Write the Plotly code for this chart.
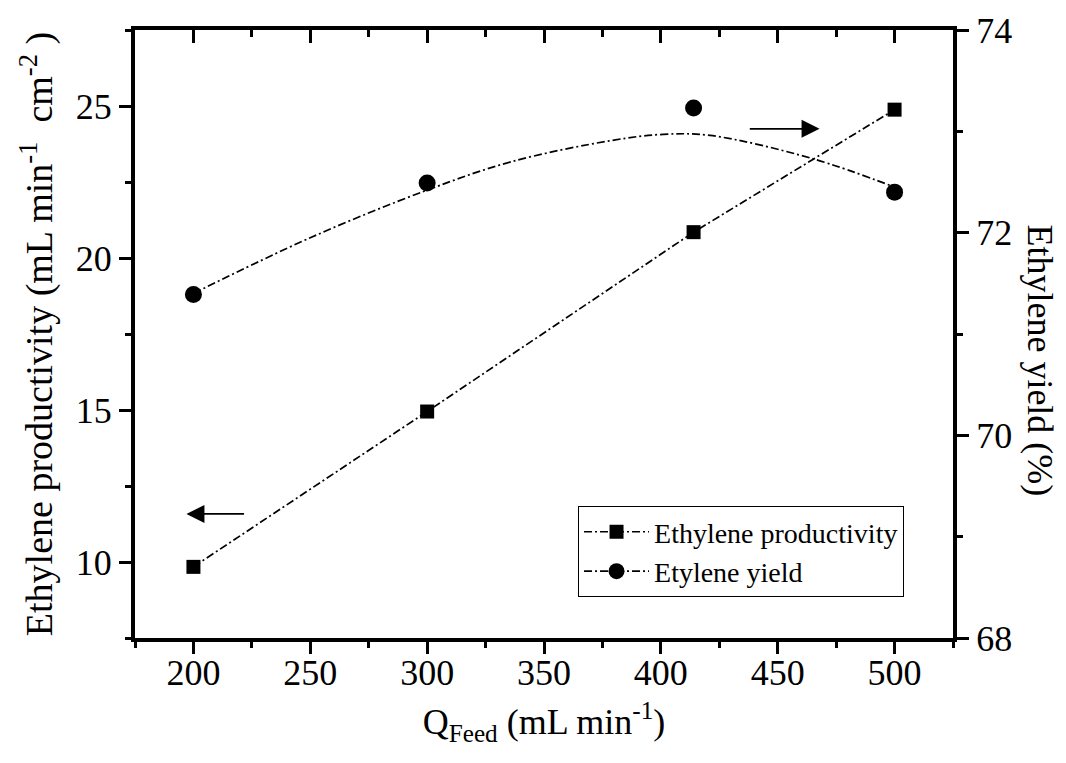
import plotly.graph_objects as go

# ---- data ----
q_feed = [200, 300, 414, 500]
productivity = [9.84, 14.95, 20.85, 24.88]
yield_pts = [71.39, 72.49, 73.23, 72.40]

# smooth fitted curve through yield
curve_x = [200, 250, 300, 336, 379, 401, 421, 465, 500]
curve_y = [71.40, 71.95, 72.42, 72.70, 72.91, 72.97, 72.96, 72.73, 72.45]

x_ticks = [200, 250, 300, 350, 400, 450, 500]
y_ticks = [10, 15, 20, 25]
y2_ticks = [68, 70, 72, 74]

FONT = "Liberation Serif, Times New Roman, serif"
DASH = "8px,3px,2px,3px"

fig = go.Figure()

fig.add_trace(go.Scatter(
    x=q_feed, y=productivity, mode="lines+markers",
    name="Ethylene productivity",
    line=dict(color="black", width=1.7, dash=DASH),
    marker=dict(symbol="square", size=14, color="black"),
    xaxis="x", yaxis="y",
))

fig.add_trace(go.Scatter(
    x=curve_x, y=curve_y, mode="lines", showlegend=False,
    line=dict(color="black", width=1.7, dash=DASH, shape="spline", smoothing=1.0),
    xaxis="x", yaxis="y2", hoverinfo="skip",
))
fig.add_trace(go.Scatter(
    x=q_feed, y=yield_pts, mode="markers", showlegend=False,
    marker=dict(symbol="circle", size=17, color="black"),
    xaxis="x", yaxis="y2",
))
# legend entry for yield (line + marker)
fig.add_trace(go.Scatter(
    x=[None], y=[None], mode="lines+markers", name="Etylene yield",
    line=dict(color="black", width=1.7, dash=DASH),
    marker=dict(symbol="circle", size=16, color="black"),
    xaxis="x", yaxis="y2",
))
# empty traces so the tick-only axes are drawn
fig.add_trace(go.Scatter(x=[None], y=[None], mode="markers", showlegend=False,
                         xaxis="x2", yaxis="y", hoverinfo="skip"))
fig.add_trace(go.Scatter(x=[None], y=[None], mode="markers", showlegend=False,
                         xaxis="x3", yaxis="y", hoverinfo="skip"))

axis_common = dict(
    showline=True, linecolor="black", linewidth=4,
    showgrid=False, zeroline=False, automargin=False,
    tickcolor="black", tickwidth=3, ticklen=12,
    tickfont=dict(family=FONT, size=36, color="black"),
)

fig.update_layout(
    width=1066, height=763,
    margin=dict(l=135, r=113, t=30, b=125),
    paper_bgcolor="white", plot_bgcolor="white",
    font=dict(family=FONT, color="black"),
    showlegend=True,
    legend=dict(
        x=0.5416, y=0.217, xanchor="left", yanchor="top",
        bordercolor="black", borderwidth=1, bgcolor="white",
        font=dict(family=FONT, size=28, color="black"),
        tracegroupgap=0, itemwidth=65,
    ),
    # bottom axis: labels + title (ticks drawn by xaxis3)
    xaxis=dict(
        showline=True, linecolor="black", linewidth=4, showgrid=False, zeroline=False,
        automargin=False, range=[175, 525], tickvals=x_ticks, ticks="",
        tickfont=dict(family=FONT, size=36, color="black"),
        title=dict(text="Q<sub>Feed</sub> (mL min<sup>-1</sup>)",
                   font=dict(family=FONT, size=36, color="black"), standoff=18),
    ),
    # top axis with inward ticks
    xaxis2=dict(
        showline=True, linecolor="black", linewidth=4, showgrid=False, zeroline=False,
        automargin=False, anchor="y",
        range=[175, 525], tickvals=x_ticks, ticks="inside", side="top", overlaying="x",
        tickcolor="black", tickwidth=3, ticklen=13, showticklabels=False,
        minor=dict(dtick=25, tick0=0, ticks="inside", ticklen=7, tickwidth=3, tickcolor="black"),
    ),
    # bottom outward ticks
    xaxis3=dict(
        showline=True, linecolor="black", linewidth=4, showgrid=False, zeroline=False,
        automargin=False, anchor="y",
        range=[175, 525], tickvals=x_ticks, ticks="outside", side="bottom", overlaying="x",
        tickcolor="black", tickwidth=3, ticklen=12, showticklabels=False,
        minor=dict(dtick=25, tick0=0, ticks="outside", ticklen=6, tickwidth=3, tickcolor="black"),
    ),
    yaxis=dict(
        **axis_common, range=[7.5, 27.5], tickvals=y_ticks, ticks="outside",
        minor=dict(dtick=2.5, tick0=0, ticks="outside", ticklen=6, tickwidth=3, tickcolor="black"),
        title=dict(text="Ethylene productivity (mL min<sup>-1</sup>&nbsp; cm<sup>-2</sup>&nbsp;)",
                   font=dict(family=FONT, size=38, color="black"), standoff=12),
    ),
    yaxis2=dict(
        **axis_common, range=[68, 74], tickvals=y2_ticks, ticks="outside",
        side="right", overlaying="y",
        minor=dict(dtick=1, tick0=0, ticks="outside", ticklen=6, tickwidth=3, tickcolor="black"),
    ),
)

fig.add_annotation(
    text="Ethylene yield (%)", textangle=90, showarrow=False,
    xref="paper", yref="paper", x=1.106, y=0.457, xanchor="center", yanchor="middle",
    font=dict(family=FONT, size=36, color="black"),
)

# arrows
fig.add_annotation(x=197, y=11.58, ax=222.3, ay=11.58, xref="x", yref="y", axref="x", ayref="y",
                   text="", showarrow=True, arrowhead=2, arrowsize=2.0, arrowwidth=1.8, arrowcolor="black")
fig.add_annotation(x=467.9, y=24.25, ax=437.4, ay=24.25, xref="x", yref="y", axref="x", ayref="y",
                   text="", showarrow=True, arrowhead=2, arrowsize=2.0, arrowwidth=1.8, arrowcolor="black")

fig.write_html("out.html",
               config=dict(displayModeBar=False),
               post_script="document.body.style.margin='0';document.body.style.padding='0';")
